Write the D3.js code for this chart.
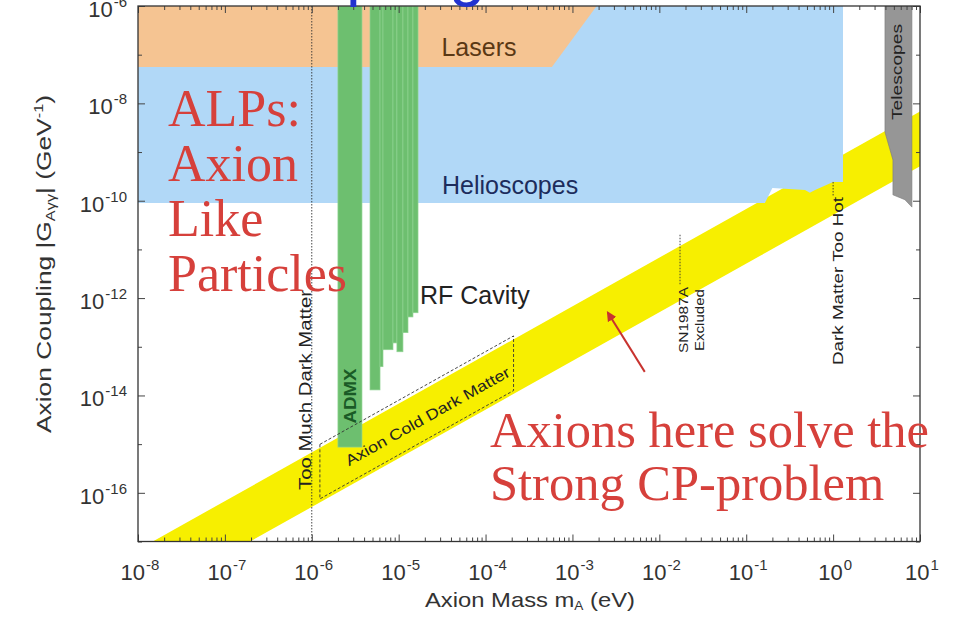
<!DOCTYPE html>
<html>
<head>
<meta charset="utf-8">
<script src="https://cdn.jsdelivr.net/npm/d3@7"></script>
<style>
body { margin: 0; background: #fff; }
svg { display: block; font-family: "Liberation Sans", Arial, sans-serif; }
</style>
</head>
<body>
<svg id="chart" width="958" height="626"></svg>
<script>
//chart size
var CHART_WIDTH = 958;
var CHART_HEIGHT = 626;
var PLOT = { left: 138, right: 920, top: 6, bottom: 541.5 };

//axes (exponents of ten)
var X_DECADES = [-8, -7, -6, -5, -4, -3, -2, -1, 0, 1];
var Y_DECADES = [-17, -16, -15, -14, -13, -12, -11, -10, -9, -8, -7, -6];
var Y_LABEL_DECADES = [-16, -14, -12, -10, -8, -6];

//excluded regions, points are [mass eV, coupling GeV^-1]
var LASERS = [[1e-8, 1e-6], [1.9e-3, 1e-6], [5.8e-4, 5.6e-8], [1e-8, 5.6e-8]];
var HELIOSCOPES = [[1e-8, 1e-6], [1.3, 1e-6], [1.3, 2.43e-10], [1.0, 2.43e-10], [0.62, 1.67e-10],
    [0.54, 1.45e-10], [0.475, 1.67e-10], [0.2, 1.83e-10], [0.164, 9.0e-11], [1e-8, 9.0e-11]];
var TELESCOPES = [[3.95, 1e-6], [8.07, 1e-6], [8.07, 7.4e-11], [6.7, 1.05e-10], [4.88, 1.32e-10],
    [4.88, 6.9e-10], [3.95, 2.57e-9]];
//RF cavity strips: [mass from, mass to, lowest coupling reached]
var CAVITIES = [[2.0e-6, 3.78e-6, 8.7e-16], [4.68e-6, 6.1e-6, 1.3e-14], [6.1e-6, 6.6e-6, 3.9e-14],
    [6.6e-6, 8.6e-6, 8.7e-14], [8.6e-6, 9.55e-6, 1.2e-13], [9.55e-6, 1.12e-5, 7.9e-14],
    [1.12e-5, 1.28e-5, 1.95e-13], [1.28e-5, 1.46e-5, 4.1e-13], [1.46e-5, 1.67e-5, 5.0e-13]];
//axion model band and cold dark matter box
var BAND = [[1.48e-8, 1e-17], [10, 6.8e-9], [10, 5.1e-10], [1.95e-7, 1e-17]];
var CDM_BOX = [[1.24e-6, 9.9e-16], [2.1e-4, 1.67e-13], [2.1e-4, 1.26e-14], [1.24e-6, 7.5e-17]];
//dotted limits: [mass, coupling from, coupling to]
var TOO_MUCH_DM = [1e-6, 1e-6, 1e-17];
var SN1987A = [0.0173, 2.0e-11, 1.9e-12];
var TOO_HOT = [1.0, 2.43e-10, 1.2e-10];
var ARROW = [[6.8e-3, 3.05e-14], [2.56e-3, 5.0e-13]];

var xScale = d3.scaleLog().domain([1e-8, 10]).range([PLOT.left, PLOT.right]);
var yScale = d3.scaleLog().domain([1e-17, 1e-6]).range([PLOT.bottom, PLOT.top]);

var svg = d3.select("#chart");

function isDecade(v) {
    var l = Math.log10(v);
    return Math.abs(l - Math.round(l)) < 1e-6;
}

function poly(data) {
    return d3.line()
        .x(d => xScale(d[0]))
        .y(d => yScale(d[1]))(data) + "Z";
}

function drawRegions() {
    svg.append("clipPath").attr("id", "plotclip")
        .append("rect")
        .attr("x", PLOT.left).attr("y", PLOT.top)
        .attr("width", PLOT.right - PLOT.left)
        .attr("height", PLOT.bottom - PLOT.top);

    let g = svg.append("g").attr("clip-path", "url(#plotclip)");

    g.append("path").attr("d", poly(BAND)).attr("fill", "#f7ef00");
    g.append("path").attr("d", poly(HELIOSCOPES)).attr("fill", "#b1d8f7");
    g.append("path").attr("d", poly(LASERS)).attr("fill", "#f5c492");

    g.selectAll("rect.cav")
        .data(CAVITIES)
        .enter().append("rect")
        .attr("class", "cav")
        .attr("x", d => xScale(d[0]))
        .attr("width", d => xScale(d[1]) - xScale(d[0]))
        .attr("y", yScale(1e-6))
        .attr("height", d => yScale(d[2]) - yScale(1e-6))
        .attr("fill", "#6dbf6f")
        .attr("stroke", "#8fd391")
        .attr("stroke-width", 0.7);

    g.append("path").attr("d", poly(TELESCOPES))
        .attr("fill", "#969696").attr("stroke", "#7a7a7a").attr("stroke-width", 0.6);

    g.append("path").attr("d", poly(CDM_BOX))
        .attr("fill", "none").attr("stroke", "#333")
        .attr("stroke-width", 0.9).attr("stroke-dasharray", "3,2");

    [TOO_MUCH_DM, SN1987A, TOO_HOT].forEach(l => {
        g.append("line")
            .attr("x1", xScale(l[0])).attr("x2", xScale(l[0]))
            .attr("y1", yScale(l[1])).attr("y2", yScale(l[2]))
            .attr("stroke", "#333").attr("stroke-width", 0.9)
            .attr("stroke-dasharray", "1.5,1.5");
    });
}

function vText(txt, x, y, size, len, color) {
    let t = svg.append("text")
        .attr("transform", `translate(${x}, ${y}) rotate(-90)`)
        .attr("text-anchor", "middle")
        .attr("font-size", size)
        .attr("fill", color || "#222")
        .text(txt);
    if (len) t.attr("textLength", len).attr("lengthAdjust", "spacingAndGlyphs");
    return t;
}

function drawLabels() {
    //region names
    svg.append("text").attr("x", 479).attr("y", 56).attr("text-anchor", "middle")
        .attr("font-size", 25).attr("fill", "#5a3814").text("Lasers");
    svg.append("text").attr("x", 442).attr("y", 194)
        .attr("font-size", 25).attr("fill", "#1c2c5c").text("Helioscopes");
    svg.append("text").attr("x", 420).attr("y", 304)
        .attr("font-size", 25).attr("fill", "#222").text("RF Cavity");

    vText("ADMX", 356, 396, 17, 55, "#1a5a26").attr("font-weight", "bold");
    vText("Too Much Dark Matter", 311, 390, 16, 200);
    vText("SN1987A", 688, 320, 12, 66);
    vText("Excluded", 704, 320, 12, 62);
    vText("Dark Matter Too Hot", 843, 281, 15, 168);
    vText("Telescopes", 902, 72, 15, 96);

    //label along the cold dark matter box
    let angle = Math.atan2(yScale(1e-12) - yScale(1e-13), xScale(1e-3) - xScale(1e-4)) * 180 / Math.PI;
    svg.append("text")
        .attr("transform", `translate(${xScale(2.3e-5)}, ${yScale(3.0e-15)}) rotate(${angle})`)
        .attr("text-anchor", "middle")
        .attr("font-size", 15)
        .attr("fill", "#222")
        .attr("textLength", 186).attr("lengthAdjust", "spacingAndGlyphs")
        .text("Axion Cold Dark Matter");

    //slide overlay text
    let red = "#d6403b";
    ["ALPs:", "Axion", "Like", "Particles"].forEach((s, i) => {
        svg.append("text").attr("x", 168).attr("y", 126 + i * 55)
            .attr("font-family", "'Liberation Serif', 'DejaVu Serif', serif")
            .attr("font-size", 52).attr("fill", red).text(s);
    });
    ["Axions here solve the", "Strong CP-problem"].forEach((s, i) => {
        svg.append("text").attr("x", 490).attr("y", 447 + i * 53)
            .attr("font-family", "'Liberation Serif', 'DejaVu Serif', serif")
            .attr("font-size", 50.5).attr("fill", red).text(s);
    });

    svg.append("defs").append("marker")
        .attr("id", "head").attr("viewBox", "0 0 10 10")
        .attr("refX", 8).attr("refY", 5)
        .attr("markerWidth", 5).attr("markerHeight", 5)
        .attr("orient", "auto")
        .append("path").attr("d", "M0,0 L10,5 L0,10 Z").attr("fill", "#c8332f");
    svg.append("line")
        .attr("x1", xScale(ARROW[0][0])).attr("y1", yScale(ARROW[0][1]))
        .attr("x2", xScale(ARROW[1][0])).attr("y2", yScale(ARROW[1][1]))
        .attr("stroke", "#c8332f").attr("stroke-width", 2)
        .attr("marker-end", "url(#head)");

    //cut-off slide title, only its descenders show
    svg.append("text").attr("x", 225).attr("y", -7)
        .attr("font-size", 66).attr("fill", "#2233d0")
        .text("Coupling");
}

function drawAxes() {
    let xt = xScale.ticks();
    let yt = Y_DECADES.map(e => Math.pow(10, e));

    let axes = [
        [d3.axisBottom(xScale).tickValues(xt), `translate(0, ${PLOT.bottom})`, "y2", -1],
        [d3.axisTop(xScale).tickValues(xt), `translate(0, ${PLOT.top})`, "y2", 1],
        [d3.axisLeft(yScale).tickValues(yt), `translate(${PLOT.left}, 0)`, "x2", 1],
        [d3.axisRight(yScale).tickValues(yt), `translate(${PLOT.right}, 0)`, "x2", -1]
    ];
    axes.forEach(a => {
        let g = svg.append("g").attr("transform", a[1]).call(a[0].tickFormat(""));
        g.select(".domain").remove();
        g.selectAll(".tick line")
            .attr(a[2], d => {
                let major = a[2] == "y2" ? isDecade(d) : Y_LABEL_DECADES.indexOf(Math.round(Math.log10(d))) >= 0;
                return a[3] * (major ? 7 : 4);
            })
            .attr("stroke", "#444");
    });

    svg.append("rect")
        .attr("x", PLOT.left).attr("y", PLOT.top)
        .attr("width", PLOT.right - PLOT.left).attr("height", PLOT.bottom - PLOT.top)
        .attr("fill", "none").attr("stroke", "#333").attr("stroke-width", 1.3);

    //tick labels
    X_DECADES.forEach(e => {
        let t = svg.append("text")
            .attr("x", xScale(Math.pow(10, e)) + 2).attr("y", 580)
            .attr("text-anchor", "middle").attr("font-size", 22).attr("fill", "#333")
            .text("10");
        t.append("tspan").attr("dy", -10).attr("dx", 1).attr("font-size", 15).text(e);
    });
    Y_LABEL_DECADES.forEach(e => {
        let t = svg.append("text")
            .attr("x", 127).attr("y", yScale(Math.pow(10, e)) + 11)
            .attr("text-anchor", "end").attr("font-size", 22).attr("fill", "#333")
            .text("10");
        t.append("tspan").attr("dy", -10).attr("dx", 1).attr("font-size", 15).text(e);
    });

    //axis titles
    let xl = svg.append("text").attr("x", 530).attr("y", 607)
        .attr("text-anchor", "middle").attr("font-size", 21).attr("fill", "#333")
        .attr("textLength", 210).attr("lengthAdjust", "spacingAndGlyphs")
        .text("Axion Mass m");
    xl.append("tspan").attr("dy", 3).attr("font-size", 12).text("A");
    xl.append("tspan").attr("dy", -3).text(" (eV)");

    let yl = svg.append("text")
        .attr("transform", `translate(51, 264) rotate(-90)`)
        .attr("text-anchor", "middle").attr("font-size", 21).attr("fill", "#333")
        .attr("textLength", 338).attr("lengthAdjust", "spacingAndGlyphs")
        .text("Axion Coupling |G");
    yl.append("tspan").attr("dy", 4).attr("font-size", 13).text("Aγγ");
    yl.append("tspan").attr("dy", -4).text("| (GeV");
    yl.append("tspan").attr("dy", -8).attr("font-size", 13).text("-1");
    yl.append("tspan").attr("dy", 8).text(")");
}

drawRegions();
drawAxes();
drawLabels();
</script>
</body>
</html>
